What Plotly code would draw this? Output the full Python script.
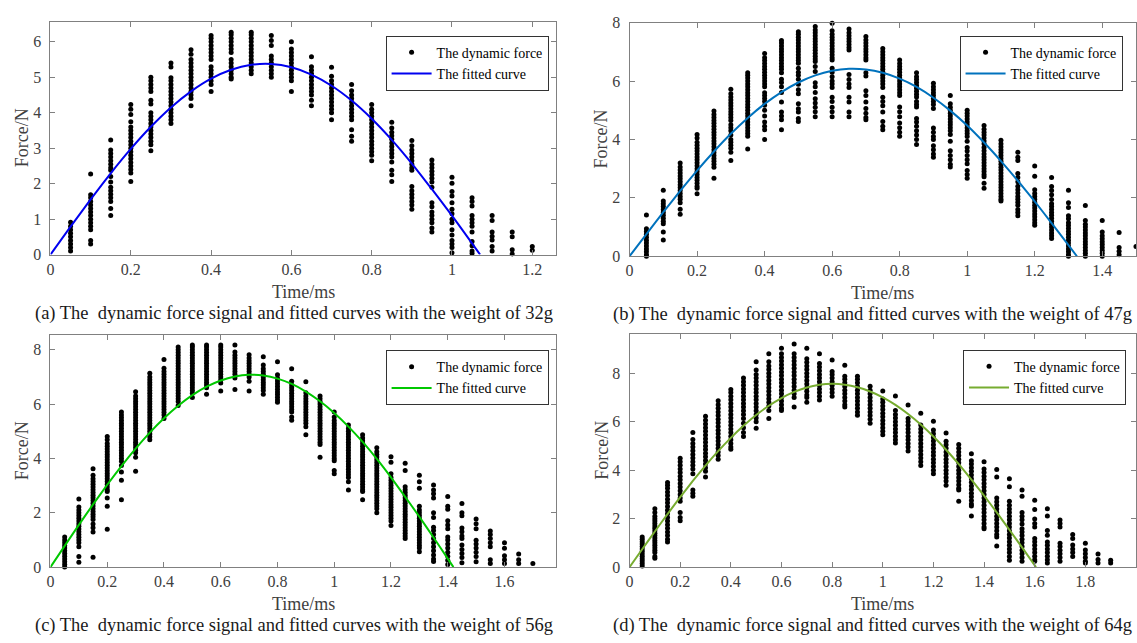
import plotly.graph_objects as go

W, H = 1137, 643
SERIF = "Liberation Serif"
AX_LINE = "#808080"
AX_TEXT = "#404040"

# ---------------- 32 g ----------------
T_32 = [0.05, 0.10, 0.15, 0.20, 0.25, 0.30, 0.35, 0.40, 0.45, 0.50, 0.55, 0.60,
        0.65, 0.70, 0.75, 0.80, 0.85, 0.90, 0.95, 1.00, 1.05, 1.10, 1.15, 1.20]
F_32 = [
    [0.91, 0.8, 0.7, 0.6, 0.5, 0.4, 0.3, 0.2, 0.1],
    [2.27, 1.69, 1.6, 1.5, 1.4, 1.3, 1.2, 1.1, 1.0, 0.9, 0.8, 0.7, 0.4, 0.3],
    [3.23, 2.95, 2.85, 2.75, 2.65, 2.55, 2.45, 2.38, 2.2, 2.05, 1.9, 1.8, 1.7, 1.6, 1.5, 1.3, 1.1],
    [4.23, 4.1, 3.95, 3.75, 3.6, 3.5, 3.4, 3.3, 3.2, 3.1, 3.0, 2.9, 2.8, 2.7, 2.6, 2.5, 2.4, 2.3, 2.06],
    [5.0, 4.9, 4.8, 4.7, 4.6, 4.35, 4.25, 4.0, 3.9, 3.8, 3.7, 3.6, 3.5, 3.4, 3.3, 3.2, 3.1, 2.93],
    [5.4, 5.29, 4.99, 4.9, 4.8, 4.7, 4.6, 4.5, 4.4, 4.3, 4.2, 4.1, 4.0, 3.9, 3.8, 3.7],
    [5.78, 5.65, 5.5, 5.4, 5.3, 5.2, 5.1, 5.0, 4.9, 4.8, 4.7, 4.6, 4.5, 4.4, 4.2],
    [6.18, 6.1, 6.0, 5.9, 5.8, 5.7, 5.6, 5.5, 5.3, 5.2, 5.1, 5.0, 4.9, 4.8, 4.6],
    [6.27, 6.2, 6.1, 6.0, 5.9, 5.8, 5.7, 5.5, 5.4, 5.3, 5.2, 5.1, 5.0, 4.95],
    [6.27, 6.2, 6.1, 6.0, 5.9, 5.8, 5.7, 5.6, 5.5, 5.4, 5.3, 5.2, 5.1],
    [6.18, 6.04, 5.9, 5.6, 5.5, 5.4, 5.3, 5.2, 5.1, 5.0],
    [6.0, 5.8, 5.7, 5.6, 5.5, 5.4, 5.3, 5.2, 5.1, 5.0, 4.9, 4.6],
    [5.58, 5.3, 5.2, 5.1, 5.0, 4.9, 4.8, 4.7, 4.6, 4.5, 4.35, 4.2],
    [5.28, 5.03, 4.9, 4.8, 4.7, 4.6, 4.5, 4.4, 4.3, 4.2, 4.1, 4.0, 3.8],
    [4.8, 4.62, 4.5, 4.4, 4.3, 4.2, 4.1, 4.0, 3.9, 3.8, 3.52, 3.34, 3.2],
    [4.23, 4.1, 4.0, 3.9, 3.8, 3.7, 3.6, 3.5, 3.4, 3.3, 3.2, 3.1, 3.0, 2.9, 2.8, 2.65],
    [3.73, 3.57, 3.45, 3.35, 3.25, 3.15, 3.05, 2.95, 2.85, 2.75, 2.61, 2.38, 2.25, 2.06],
    [3.22, 3.07, 2.95, 2.85, 2.75, 2.65, 2.55, 2.45, 2.38, 1.92, 1.8, 1.7, 1.6, 1.5, 1.4, 1.28],
    [2.67, 2.55, 2.45, 2.35, 2.25, 2.15, 2.05, 1.9, 1.46, 1.35, 1.2, 1.1, 1.0, 0.9, 0.75, 0.64],
    [2.18, 2.01, 1.78, 1.65, 1.46, 1.28, 1.15, 1.0, 0.9, 0.7, 0.55, 0.4, 0.3, 0.2, 0.05],
    [1.6, 1.5, 1.37, 1.1, 1.0, 0.9, 0.8, 0.64, 0.37, 0.25, 0.1, 0.03],
    [1.1, 0.96, 0.64, 0.52, 0.41, 0.23, 0.1],
    [0.64, 0.5, 0.14, 0.02],
    [0.23, 0.12],
]
FIT_T_32 = [0, 0.05, 0.1, 0.15, 0.2, 0.25, 0.3, 0.35, 0.4, 0.45, 0.5, 0.55, 0.6,
            0.65, 0.7, 0.75, 0.8, 0.85, 0.9, 0.95, 1.0, 1.05, 1.07]
FIT_F_32 = [0, 0.787, 1.557, 2.294, 2.981, 3.604, 4.149, 4.604, 4.962, 5.213, 5.351,
            5.375, 5.282, 5.076, 4.762, 4.345, 3.833, 3.237, 2.569, 1.844, 1.097, 0.315, 0]

# ---------------- 47 g ----------------
T_47 = [0.05, 0.10, 0.15, 0.20, 0.25, 0.30, 0.35, 0.40, 0.45, 0.50, 0.55, 0.60,
        0.65, 0.70, 0.75, 0.80, 0.85, 0.90, 0.95, 1.00, 1.05, 1.10, 1.15, 1.20,
        1.25, 1.30, 1.35, 1.40, 1.45, 1.50]
F_47 = [
    [1.41, 0.94, 0.85, 0.75, 0.65, 0.55, 0.45, 0.35, 0.25, 0.15, 0.05, 0.0],
    [2.26, 1.89, 1.8, 1.7, 1.6, 1.5, 1.4, 1.3, 1.2, 1.11, 0.83, 0.56],
    [3.19, 3.06, 2.95, 2.85, 2.75, 2.65, 2.55, 2.45, 2.35, 2.25, 2.15, 2.05, 1.95, 1.83, 1.61, 1.44],
    [4.17, 4.05, 3.9, 3.8, 3.7, 3.6, 3.5, 3.4, 3.3, 3.2, 3.1, 3.0, 2.9, 2.8, 2.7, 2.6, 2.5, 2.4, 2.33, 2.14],
    [4.97, 4.85, 4.75, 4.65, 4.55, 4.45, 4.35, 4.25, 4.15, 4.05, 3.95, 3.85, 3.75, 3.65, 3.55, 3.45,
     3.35, 3.25, 3.15, 3.05, 2.67],
    [5.72, 5.56, 5.45, 5.35, 5.25, 5.15, 5.05, 4.95, 4.85, 4.75, 4.65, 4.5, 4.4, 4.3, 4.15, 4.0,
     3.9, 3.8, 3.7, 3.56, 3.28],
    [6.28, 6.2, 6.1, 6.0, 5.9, 5.8, 5.7, 5.6, 5.5, 5.4, 5.3, 5.2, 5.1, 5.0, 4.9, 4.8, 4.7, 4.6,
     4.5, 4.4, 4.3, 4.2, 4.11, 3.67],
    [6.94, 6.8, 6.7, 6.6, 6.5, 6.4, 6.3, 6.2, 6.1, 6.0, 5.9, 5.8, 5.6, 5.5, 5.4, 5.3, 5.17, 5.0,
     4.8, 4.6, 4.45, 4.33, 4.0],
    [7.39, 7.3, 7.2, 7.1, 7.0, 6.9, 6.8, 6.7, 6.6, 6.5, 6.4, 6.28, 6.06, 5.95, 5.8, 5.61, 5.28,
     4.94, 4.8, 4.67, 4.33],
    [7.69, 7.6, 7.5, 7.4, 7.3, 7.2, 7.1, 7.0, 6.9, 6.8, 6.7, 6.61, 6.44, 6.3, 6.2, 6.06, 5.89,
     5.7, 5.56, 5.22, 5.05, 4.94, 4.72, 4.61],
    [7.87, 7.75, 7.65, 7.55, 7.45, 7.35, 7.25, 7.15, 7.05, 6.95, 6.85, 6.75, 6.67, 6.5, 6.33,
     5.94, 5.8, 5.61, 5.39, 5.25, 5.1, 4.95, 4.78],
    [7.98, 7.72, 7.6, 7.5, 7.4, 7.3, 7.2, 7.1, 7.0, 6.9, 6.8, 6.72, 6.44, 6.3, 6.15, 6.0, 5.9,
     5.78, 5.44, 5.3, 5.1, 4.95, 4.78],
    [7.78, 7.65, 7.55, 7.45, 7.35, 7.25, 7.15, 7.06, 6.22, 6.05, 5.9, 5.78, 5.44, 5.28, 4.94, 4.78],
    [7.52, 7.4, 7.3, 7.2, 7.1, 7.0, 6.9, 6.8, 6.72, 6.28, 6.17, 5.67, 5.5, 5.28, 5.06, 4.9, 4.75, 4.67],
    [7.11, 7.0, 6.9, 6.8, 6.7, 6.6, 6.5, 6.4, 6.3, 6.2, 6.1, 6.0, 5.9, 5.78, 5.44, 5.3, 5.15,
     4.94, 4.61, 4.45, 4.33],
    [6.72, 6.6, 6.5, 6.4, 6.3, 6.2, 6.1, 6.0, 5.9, 5.8, 5.7, 5.6, 5.5, 5.11, 4.95, 4.78, 4.56,
     4.4, 4.25, 4.11],
    [6.28, 6.15, 6.05, 5.95, 5.85, 5.75, 5.65, 5.55, 5.45, 5.3, 5.2, 5.11, 4.72, 4.6, 4.45, 4.3,
     4.15, 4.0, 3.83],
    [5.92, 5.8, 5.7, 5.6, 5.5, 5.4, 5.3, 5.2, 5.06, 4.39, 4.25, 4.1, 4.0, 3.78, 3.65, 3.5, 3.39],
    [5.5, 5.22, 5.1, 5.0, 4.9, 4.8, 4.7, 4.6, 4.5, 4.4, 4.3, 4.17, 3.94, 3.61, 3.45, 3.3, 3.15, 3.06],
    [5.0, 4.9, 4.8, 4.7, 4.6, 4.5, 4.4, 4.3, 4.2, 4.1, 3.94, 3.72, 3.6, 3.45, 3.3, 3.17, 2.94, 2.8, 2.67],
    [4.48, 4.35, 4.25, 4.15, 4.05, 3.95, 3.85, 3.72, 3.61, 3.5, 3.4, 3.3, 3.2, 3.1, 3.0, 2.9,
     2.8, 2.72, 2.5, 2.33],
    [3.97, 3.85, 3.75, 3.65, 3.55, 3.45, 3.35, 3.25, 3.15, 3.05, 2.95, 2.85, 2.75, 2.65, 2.55,
     2.45, 2.35, 2.25, 2.15, 2.05, 1.95, 1.89],
    [3.56, 3.39, 3.28, 2.83, 2.7, 2.55, 2.4, 2.28, 2.17, 2.05, 1.95, 1.85, 1.75, 1.6, 1.5, 1.39],
    [3.09, 2.74, 2.28, 2.15, 2.05, 1.95, 1.85, 1.75, 1.65, 1.55, 1.45, 1.35, 1.25, 1.15, 1.06],
    [2.7, 2.39, 2.25, 2.11, 1.94, 1.8, 1.7, 1.6, 1.5, 1.4, 1.3, 1.2, 1.1, 1.0, 0.9, 0.8, 0.7, 0.61],
    [2.26, 1.83, 1.67, 1.39, 1.28, 1.15, 1.05, 0.95, 0.85, 0.75, 0.65, 0.55, 0.45, 0.35, 0.25,
     0.15, 0.05, 0.0],
    [1.74, 1.22, 1.1, 1.0, 0.9, 0.8, 0.7, 0.6, 0.5, 0.4, 0.3, 0.2, 0.1, 0.0],
    [1.22, 0.83, 0.7, 0.6, 0.5, 0.4, 0.3, 0.2, 0.1, 0.0],
    [0.81, 0.3, 0.17, 0.05],
    [0.33],
]
FIT_T_47 = [0, 0.05, 0.1, 0.15, 0.2, 0.25, 0.3, 0.35, 0.4, 0.45, 0.5, 0.55, 0.6, 0.65,
            0.7, 0.75, 0.8, 0.85, 0.9, 0.95, 1.0, 1.05, 1.1, 1.15, 1.2, 1.25, 1.3, 1.325]
FIT_F_47 = [0, 0.759, 1.508, 2.235, 2.931, 3.586, 4.192, 4.737, 5.216, 5.622, 5.949, 6.193,
            6.351, 6.417, 6.394, 6.281, 6.080, 5.796, 5.428, 4.987, 4.476, 3.893, 3.259,
            2.585, 1.876, 1.137, 0.380, 0]

# ---------------- 56 g ----------------
T_56 = [0.05, 0.10, 0.15, 0.20, 0.25, 0.30, 0.35, 0.40, 0.45, 0.50, 0.55, 0.60,
        0.65, 0.70, 0.75, 0.80, 0.85, 0.90, 0.95, 1.00, 1.05, 1.10, 1.15, 1.20,
        1.25, 1.30, 1.35, 1.40, 1.45, 1.50, 1.55, 1.60, 1.65, 1.70]
F_56 = [
    [1.11, 1.0, 0.9, 0.8, 0.7, 0.6, 0.5, 0.4, 0.3, 0.2, 0.1, 0.0],
    [2.51, 2.21, 2.1, 2.0, 1.9, 1.8, 1.7, 1.6, 1.5, 1.4, 1.3, 1.2, 1.1, 1.0, 0.9, 0.75, 0.39, 0.18],
    [3.62, 3.38, 3.25, 3.15, 3.05, 2.95, 2.85, 2.75, 2.65, 2.55, 2.45, 2.35, 2.25, 2.15, 2.05,
     1.95, 1.85, 1.75, 1.59, 1.45, 1.29, 0.36],
    [4.81, 4.69, 4.55, 4.45, 4.35, 4.25, 4.15, 4.05, 3.95, 3.85, 3.75, 3.65, 3.55, 3.45, 3.35,
     3.25, 3.15, 3.05, 2.95, 2.85, 2.78, 2.54, 2.24, 1.39],
    [5.71, 5.6, 5.5, 5.4, 5.3, 5.2, 5.1, 5.0, 4.9, 4.8, 4.7, 4.6, 4.5, 4.4, 4.3, 4.2, 4.1, 4.0,
     3.9, 3.74, 3.5, 3.2, 2.48],
    [6.46, 6.3, 6.2, 6.1, 6.0, 5.9, 5.8, 5.7, 5.6, 5.5, 5.4, 5.3, 5.2, 5.1, 5.0, 4.9, 4.8, 4.7,
     4.6, 4.5, 4.4, 4.3, 4.21, 4.04, 3.53],
    [7.14, 7.0, 6.9, 6.8, 6.7, 6.6, 6.5, 6.4, 6.3, 6.2, 6.1, 6.0, 5.9, 5.8, 5.7, 5.6, 5.5, 5.4,
     5.3, 5.2, 5.1, 5.0, 4.9, 4.8, 4.69],
    [7.64, 7.32, 7.2, 7.1, 7.0, 6.9, 6.8, 6.7, 6.6, 6.5, 6.4, 6.3, 6.2, 6.1, 6.0, 5.9, 5.8, 5.7,
     5.6, 5.47],
    [8.1, 8.0, 7.9, 7.8, 7.7, 7.6, 7.5, 7.4, 7.3, 7.2, 7.1, 7.0, 6.9, 6.8, 6.7, 6.6, 6.5, 6.4,
     6.3, 6.2, 6.1, 5.95],
    [8.18, 8.1, 8.0, 7.9, 7.8, 7.7, 7.6, 7.5, 7.4, 7.3, 7.2, 7.1, 7.0, 6.9, 6.8, 6.7, 6.6, 6.5,
     6.4, 6.24],
    [8.18, 8.1, 8.0, 7.9, 7.8, 7.7, 7.6, 7.5, 7.4, 7.3, 7.2, 7.1, 7.0, 6.9, 6.8, 6.7, 6.6, 6.36],
    [8.18, 8.1, 8.0, 7.9, 7.8, 7.7, 7.6, 7.5, 7.4, 7.3, 7.2, 7.1, 7.0, 6.9, 6.78, 6.48],
    [8.18, 7.92, 7.8, 7.7, 7.6, 7.5, 7.4, 7.3, 7.2, 7.1, 6.96, 6.54],
    [7.82, 7.7, 7.6, 7.5, 7.4, 7.3, 7.2, 7.1, 7.0, 6.84, 6.48],
    [7.74, 7.44, 7.3, 7.2, 7.1, 7.0, 6.9, 6.8, 6.7, 6.6, 6.5, 6.36],
    [7.56, 7.08, 6.95, 6.85, 6.75, 6.65, 6.55, 6.45, 6.35, 6.25, 6.15, 6.07],
    [7.3, 6.84, 6.7, 6.6, 6.5, 6.4, 6.3, 6.2, 6.1, 6.0, 5.9, 5.8, 5.71, 5.53, 5.41],
    [6.82, 6.42, 6.3, 6.2, 6.1, 6.0, 5.9, 5.8, 5.7, 5.6, 5.5, 5.4, 5.3, 5.17, 4.87],
    [6.3, 6.2, 6.1, 6.0, 5.9, 5.8, 5.7, 5.6, 5.5, 5.4, 5.3, 5.2, 5.1, 5.0, 4.9, 4.8, 4.7, 4.6,
     4.51, 4.04],
    [5.71, 5.53, 5.4, 5.3, 5.2, 5.1, 5.0, 4.9, 4.8, 4.7, 4.6, 4.5, 4.4, 4.3, 4.2, 4.1, 4.0,
     3.92, 3.56, 3.44],
    [5.23, 5.1, 5.0, 4.9, 4.8, 4.7, 4.6, 4.5, 4.4, 4.3, 4.2, 4.1, 4.0, 3.9, 3.8, 3.7, 3.6, 3.5,
     3.4, 3.3, 3.14, 2.84],
    [4.87, 4.75, 4.65, 4.55, 4.45, 4.35, 4.25, 4.15, 4.05, 3.95, 3.85, 3.75, 3.65, 3.55, 3.45,
     3.35, 3.25, 3.15, 3.05, 2.95, 2.85, 2.78, 2.48],
    [4.39, 4.25, 4.15, 4.05, 3.95, 3.85, 3.75, 3.65, 3.55, 3.45, 3.35, 3.25, 3.15, 3.05, 2.95,
     2.85, 2.75, 2.65, 2.55, 2.45, 2.35, 2.25, 2.15, 2.0],
    [4.06, 3.86, 3.44, 3.3, 3.2, 3.1, 3.0, 2.9, 2.8, 2.7, 2.6, 2.5, 2.4, 2.3, 2.2, 2.1, 2.0,
     1.9, 1.8, 1.7, 1.53],
    [3.82, 3.56, 2.96, 2.85, 2.75, 2.65, 2.55, 2.45, 2.35, 2.25, 2.15, 2.05, 1.95, 1.85, 1.75,
     1.65, 1.55, 1.45, 1.35, 1.25, 1.15, 1.05],
    [3.38, 3.14, 2.9, 2.24, 2.1, 2.0, 1.9, 1.8, 1.7, 1.6, 1.5, 1.4, 1.3, 1.2, 1.1, 1.0, 0.9,
     0.8, 0.7, 0.57],
    [3.02, 2.84, 2.7, 2.54, 2.0, 1.83, 1.47, 1.35, 1.2, 1.05, 0.9, 0.75, 0.6, 0.45, 0.3, 0.21],
    [2.6, 2.24, 2.13, 1.71, 1.55, 1.41, 1.11, 1.0, 0.85, 0.7, 0.55, 0.4, 0.25, 0.1],
    [2.34, 2.0, 1.89, 1.44, 1.3, 1.15, 1.05, 0.81, 0.65, 0.5, 0.35, 0.16],
    [1.77, 1.6, 1.41, 0.99, 0.85, 0.7, 0.55, 0.39, 0.2],
    [1.33, 1.2, 1.05, 0.9, 0.75, 0.27, 0.13],
    [0.9, 0.69, 0.42, 0.27, 0.13],
    [0.48, 0.27, 0.13],
    [0.13],
]
FIT_T_56 = [0, 0.05, 0.1, 0.15, 0.2, 0.25, 0.3, 0.35, 0.4, 0.45, 0.5, 0.55, 0.6, 0.65,
            0.7, 0.75, 0.8, 0.85, 0.9, 0.95, 1.0, 1.05, 1.1, 1.15, 1.2, 1.25, 1.3, 1.35,
            1.4, 1.42]
FIT_F_56 = [0, 0.781, 1.554, 2.307, 3.032, 3.720, 4.362, 4.951, 5.479, 5.939, 6.329, 6.640,
            6.871, 7.018, 7.079, 7.052, 6.940, 6.742, 6.462, 6.104, 5.673, 5.173, 4.608,
            3.982, 3.304, 2.588, 1.855, 1.092, 0.313, 0]

# ---------------- 64 g ----------------
T_64 = [0.05, 0.10, 0.15, 0.20, 0.25, 0.30, 0.35, 0.40, 0.45, 0.50, 0.55, 0.60,
        0.65, 0.70, 0.75, 0.80, 0.85, 0.90, 0.95, 1.00, 1.05, 1.10, 1.15, 1.20,
        1.25, 1.30, 1.35, 1.40, 1.45, 1.50, 1.55, 1.60, 1.65, 1.70, 1.75, 1.80,
        1.85, 1.90]
F_64 = [
    [1.24, 1.15, 1.05, 0.95, 0.85, 0.75, 0.65, 0.55, 0.45, 0.35, 0.25, 0.15, 0.05],
    [2.41, 2.25, 2.1, 2.0, 1.9, 1.8, 1.7, 1.6, 1.5, 1.4, 1.3, 1.2, 1.1, 1.0, 0.9, 0.8, 0.7,
     0.6, 0.44, 0.37],
    [3.49, 3.38, 3.25, 3.1, 2.95, 2.8, 2.65, 2.5, 2.35, 2.2, 2.05, 1.9, 1.75, 1.6, 1.45, 1.3,
     1.15, 1.04],
    [4.49, 4.35, 4.2, 4.05, 3.9, 3.75, 3.6, 3.45, 3.3, 3.15, 3.0, 2.85, 2.72, 2.25, 2.05, 1.91],
    [5.55, 5.26, 5.1, 4.95, 4.8, 4.65, 4.5, 4.35, 4.2, 4.05, 3.85, 3.18, 3.05, 2.92],
    [6.22, 6.06, 5.9, 5.75, 5.6, 5.45, 5.3, 5.15, 5.0, 4.85, 4.7, 4.55, 4.4, 4.25, 4.1, 3.95, 3.72],
    [6.86, 6.7, 6.55, 6.4, 6.25, 6.1, 5.95, 5.8, 5.65, 5.5, 5.35, 5.2, 5.05, 4.9, 4.75, 4.6, 4.45],
    [7.33, 7.2, 7.05, 6.9, 6.75, 6.6, 6.45, 6.3, 6.15, 6.0, 5.85, 5.7, 5.55, 5.4, 5.25, 5.1,
     4.95, 4.86],
    [7.8, 7.65, 7.5, 7.35, 7.2, 7.05, 6.9, 6.75, 6.6, 6.45, 6.3, 6.13, 5.93, 5.75, 5.55, 5.39],
    [8.47, 8.13, 7.95, 7.8, 7.65, 7.5, 7.35, 7.2, 7.05, 6.9, 6.75, 6.6, 6.45, 6.3, 6.15, 6.0, 5.73],
    [8.8, 8.47, 8.3, 8.15, 8.0, 7.85, 7.7, 7.55, 7.4, 7.25, 7.1, 6.95, 6.8, 6.65, 6.46, 6.13],
    [9.03, 8.8, 8.65, 8.5, 8.35, 8.2, 8.05, 7.9, 7.75, 7.6, 7.45, 7.3, 7.15, 7.0, 6.85, 6.7,
     6.55, 6.46],
    [9.2, 8.8, 8.65, 8.5, 8.35, 8.2, 8.05, 7.9, 7.75, 7.6, 7.45, 7.3, 7.15, 7.0, 6.6],
    [9.03, 8.6, 8.45, 8.3, 8.15, 8.0, 7.85, 7.7, 7.55, 7.4, 7.25, 7.1, 7.0, 6.8],
    [8.8, 8.4, 8.25, 8.1, 7.95, 7.8, 7.65, 7.5, 7.35, 7.2, 7.05, 6.89],
    [8.54, 8.07, 7.95, 7.8, 7.65, 7.5, 7.35, 7.2, 7.05],
    [8.33, 7.87, 7.75, 7.6, 7.45, 7.3, 7.15, 7.0, 6.85, 6.7, 6.6],
    [7.87, 7.75, 7.6, 7.45, 7.3, 7.15, 7.0, 6.85, 6.7, 6.55, 6.4, 6.26],
    [7.46, 7.3, 7.15, 7.0, 6.85, 6.7, 6.55, 6.4, 6.25, 6.1, 5.93],
    [7.26, 6.93, 6.8, 6.65, 6.5, 6.35, 6.2, 6.05, 5.9, 5.75, 5.6, 5.46],
    [7.06, 6.46, 6.3, 6.15, 6.0, 5.85, 5.7, 5.55, 5.4, 5.25, 5.12],
    [6.69, 6.13, 6.0, 5.85, 5.7, 5.55, 5.4, 5.25, 5.1, 4.95, 4.79],
    [6.35, 5.86, 5.7, 5.55, 5.4, 5.25, 5.1, 4.95, 4.8, 4.65, 4.5, 4.35, 4.19],
    [6.02, 5.66, 5.5, 5.35, 5.2, 5.05, 4.9, 4.75, 4.6, 4.45, 4.3, 4.15, 4.0, 3.85],
    [5.53, 5.19, 5.05, 4.9, 4.75, 4.6, 4.45, 4.3, 4.15, 4.0, 3.85, 3.7, 3.55, 3.38],
    [5.06, 4.9, 4.75, 4.6, 4.45, 4.3, 4.15, 4.0, 3.85, 3.7, 3.55, 3.4, 3.25, 3.18, 2.72],
    [4.68, 4.39, 4.25, 4.1, 3.95, 3.8, 3.65, 3.5, 3.35, 3.2, 3.05, 2.9, 2.75, 2.6, 2.52, 2.11],
    [4.35, 4.05, 3.9, 3.75, 3.6, 3.45, 3.3, 3.15, 3.0, 2.85, 2.7, 2.55, 2.4, 2.25, 2.1, 1.95,
     1.8, 1.65, 1.58],
    [4.03, 3.72, 2.85, 2.7, 2.55, 2.4, 2.25, 2.1, 1.95, 1.8, 1.65, 1.5, 1.35, 1.24, 0.87],
    [3.65, 3.32, 2.72, 2.55, 2.4, 2.25, 2.1, 1.95, 1.8, 1.65, 1.5, 1.35, 1.2, 1.05, 0.9, 0.75,
     0.6, 0.44, 0.28],
    [3.18, 2.92, 2.25, 2.1, 1.95, 1.78, 1.58, 1.45, 1.3, 1.15, 1.0, 0.85, 0.7, 0.55, 0.4, 0.24],
    [2.76, 2.38, 1.98, 1.8, 1.65, 1.18, 1.05, 0.9, 0.75, 0.6, 0.45, 0.3, 0.24],
    [2.41, 2.11, 1.51, 1.31, 1.04, 0.9, 0.75, 0.6, 0.45, 0.3, 0.17],
    [1.94, 1.8, 1.65, 0.98, 0.85, 0.7, 0.55, 0.4, 0.24],
    [1.35, 1.18, 0.91, 0.75, 0.6, 0.44],
    [0.98, 0.71, 0.55, 0.4, 0.24, 0.17],
    [0.54, 0.31, 0.17],
    [0.28, 0.17],
]
FIT_T_64 = [0, 0.05, 0.1, 0.15, 0.2, 0.25, 0.3, 0.35, 0.4, 0.45, 0.5, 0.55, 0.6, 0.65,
            0.7, 0.75, 0.8, 0.85, 0.9, 0.95, 1.0, 1.05, 1.1, 1.15, 1.2, 1.25, 1.3, 1.35,
            1.4, 1.45, 1.5, 1.55, 1.605]
FIT_F_64 = [0, 0.739, 1.470, 2.188, 2.885, 3.553, 4.189, 4.783, 5.331, 5.830, 6.273, 6.656,
            6.973, 7.226, 7.409, 7.519, 7.560, 7.527, 7.422, 7.246, 7.004, 6.692, 6.315,
            5.881, 5.387, 4.842, 4.249, 3.610, 2.947, 2.260, 1.541, 0.813, 0]

CAPTIONS = [
    "(a) The  dynamic force signal and fitted curves with the weight of 32g",
    "(b) The  dynamic force signal and fitted curves with the weight of 47g",
    "(c) The  dynamic force signal and fitted curves with the weight of 56g",
    "(d) The  dynamic force signal and fitted curves with the weight of 64g",
]
LEGEND_NAMES = ["The dynamic force", "The fitted curve"]

X_TICKS = [
    [0, 0.2, 0.4, 0.6, 0.8, 1.0, 1.2],
    [0, 0.2, 0.4, 0.6, 0.8, 1.0, 1.2, 1.4],
    [0, 0.2, 0.4, 0.6, 0.8, 1.0, 1.2, 1.4, 1.6],
    [0, 0.2, 0.4, 0.6, 0.8, 1.0, 1.2, 1.4, 1.6, 1.8, 2.0],
]
Y_TICKS = [
    [0, 1, 2, 3, 4, 5, 6],
    [0, 2, 4, 6, 8],
    [0, 2, 4, 6, 8],
    [0, 2, 4, 6, 8],
]


def tick_text(v):
    return f"{v:g}"


# Panel geometry in page pixels: (left, right, top, bottom), axis ranges, curve colour
PANELS = [
    dict(t=T_32, f=F_32, ft=FIT_T_32, ff=FIT_F_32, color="#0000f0",
         box=(46.7, 554, 14, 253.3), xr=[0, 1.258], yr=[0, 6.57],
         leg=(547, 28.5)),
    dict(t=T_47, f=F_47, ft=FIT_T_47, ff=FIT_F_47, color="#0072BD",
         box=(628.3, 1137, 15, 255), xr=[0, 1.5], yr=[0, 8.0],
         leg=(1123.5, 28.5)),
    dict(t=T_56, f=F_56, ft=FIT_T_56, ff=FIT_F_56, color="#00c800",
         box=(46.7, 554, 336, 574.3), xr=[0, 1.78], yr=[0, 8.54],
         leg=(547, 351.5)),
    dict(t=T_64, f=F_64, ft=FIT_T_64, ff=FIT_F_64, color="#77AC30",
         box=(628.3, 1137, 335, 574.3), xr=[0, 2.0], yr=[0, 9.61],
         leg=(1127, 351)),
]

fig = go.Figure()
layout = dict(
    width=W, height=H,
    margin=dict(l=0, r=0, t=0, b=0),
    paper_bgcolor="white", plot_bgcolor="white",
    showlegend=True,
    annotations=[],
)

for i, p in enumerate(PANELS):
    n = "" if i == 0 else str(i + 1)
    xs, ys = [], []
    for t, col in zip(p["t"], p["f"]):
        xs.extend([t] * len(col))
        ys.extend(col)
    leg_id = "legend" + n
    fig.add_trace(go.Scatter(
        x=xs, y=ys, mode="markers", name=LEGEND_NAMES[0],
        marker=dict(color="black", size=5, line=dict(width=0)),
        cliponaxis=False, xaxis="x" + n, yaxis="y" + n, legend=leg_id,
    ))
    fig.add_trace(go.Scatter(
        x=p["ft"], y=p["ff"], mode="lines", name=LEGEND_NAMES[1],
        line=dict(color=p["color"], width=2, shape="spline", smoothing=0.6),
        xaxis="x" + n, yaxis="y" + n, legend=leg_id,
    ))

    l, r, tp, bt = p["box"]
    common = dict(
        showline=True, linecolor=AX_LINE, linewidth=1, mirror="ticks",
        ticks="inside", ticklen=5, tickwidth=1, tickcolor=AX_LINE,
        showgrid=False, zeroline=False,
        tickfont=dict(family=SERIF, size=16, color=AX_TEXT),
    )
    layout["xaxis" + n] = dict(
        common, domain=[l / W, min(r / W, 1.0)], range=p["xr"],
        anchor="y" + n, tickvals=X_TICKS[i],
        ticktext=[tick_text(v) for v in X_TICKS[i]],
    )
    layout["yaxis" + n] = dict(
        common, domain=[1 - bt / H, 1 - tp / H], range=p["yr"],
        anchor="x" + n, tickvals=Y_TICKS[i],
        ticktext=[tick_text(v) for v in Y_TICKS[i]],
        ticklabelstandoff=5,
    )

    lx, ly = p["leg"]
    layout[leg_id] = dict(
        x=lx / W, y=1 - ly / H, xanchor="right", yanchor="top",
        bgcolor="white", bordercolor="#333333", borderwidth=1,
        font=dict(family=SERIF, size=14, color="black"),
        itemwidth=40, tracegroupgap=0,
    )

    cx = (l + min(r, 1138)) / 2
    # axis titles
    layout["annotations"].append(dict(
        text="Time/ms", x=cx / W,
        y=1 - (bt + 38) / H, xref="paper", yref="paper", showarrow=False,
        xanchor="center", yanchor="middle",
        font=dict(family=SERIF, size=18, color=AX_TEXT),
    ))
    layout["annotations"].append(dict(
        text="Force/N", x=(l - 28.5) / W, y=1 - ((tp + bt) / 2) / H,
        xref="paper", yref="paper", showarrow=False, textangle=-90,
        xanchor="center", yanchor="middle",
        font=dict(family=SERIF, size=18, color=AX_TEXT),
    ))
    # caption under each panel
    cap_x = 291 if i % 2 == 0 else 872
    layout["annotations"].append(dict(
        text=CAPTIONS[i], x=cap_x / W, y=1 - (bt + 60) / H,
        xref="paper", yref="paper", showarrow=False,
        xanchor="center", yanchor="middle",
        font=dict(family=SERIF, size=18.5, color="#1a1a1a"),
    ))

fig.update_layout(**layout)
fig.write_html("out.html")
